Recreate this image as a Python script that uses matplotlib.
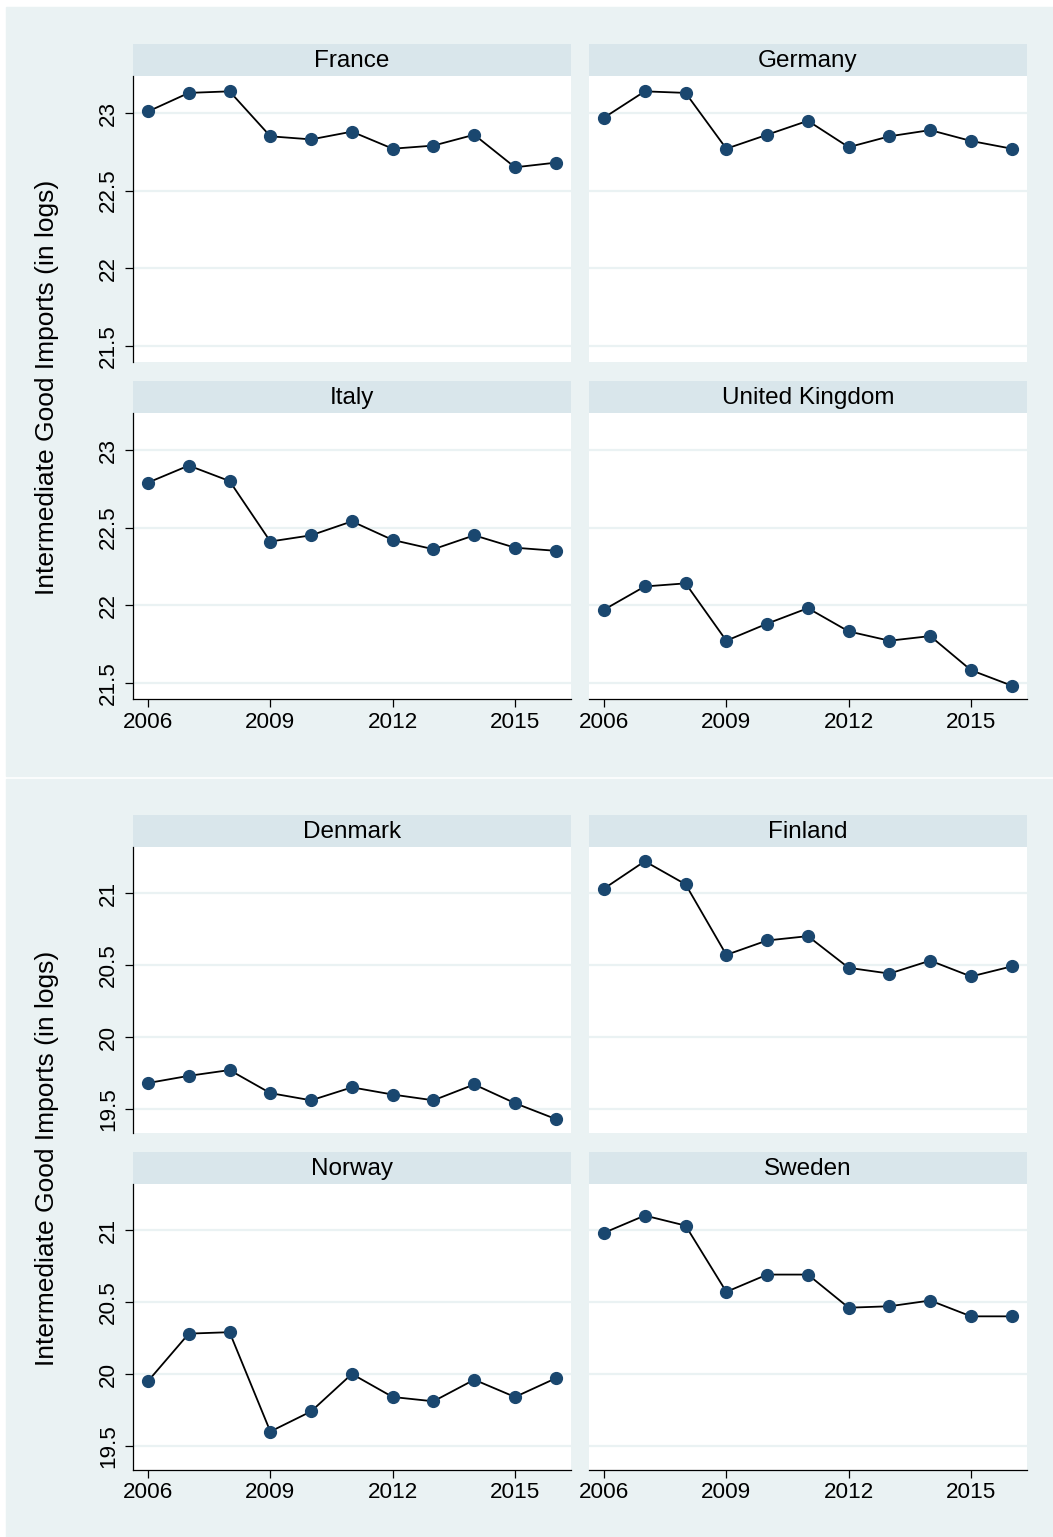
import matplotlib
matplotlib.use("Agg")
import matplotlib.pyplot as plt
from matplotlib.patches import Rectangle

plt.rcParams['font.family'] = ['Liberation Sans', 'DejaVu Sans']

# Intermediate good imports (in logs), 2006-2016
years = list(range(2006, 2017))
france = [23.01, 23.13, 23.14, 22.85, 22.83, 22.88, 22.77, 22.79, 22.86, 22.65, 22.68]
germany = [22.97, 23.14, 23.13, 22.77, 22.86, 22.95, 22.78, 22.85, 22.89, 22.82, 22.77]
italy = [22.79, 22.90, 22.80, 22.41, 22.45, 22.54, 22.42, 22.36, 22.45, 22.37, 22.35]
uk = [21.97, 22.12, 22.14, 21.77, 21.88, 21.98, 21.83, 21.77, 21.80, 21.58, 21.48]
denmark = [19.68, 19.73, 19.77, 19.61, 19.56, 19.65, 19.60, 19.56, 19.67, 19.54, 19.43]
finland = [21.03, 21.22, 21.06, 20.57, 20.67, 20.70, 20.48, 20.44, 20.53, 20.42, 20.49]
norway = [19.95, 20.28, 20.29, 19.60, 19.74, 20.00, 19.84, 19.81, 19.96, 19.84, 19.97]
sweden = [20.98, 21.10, 21.03, 20.57, 20.69, 20.69, 20.46, 20.47, 20.51, 20.40, 20.40]

big_names = ['France', 'Germany', 'Italy', 'United Kingdom']
big_series = [france, germany, italy, uk]
nordic_names = ['Denmark', 'Finland', 'Norway', 'Sweden']
nordic_series = [denmark, finland, norway, sweden]

big_ticks = [21.5, 22, 22.5, 23]
nordic_ticks = [19.5, 20, 20.5, 21]
xticks = [2006, 2009, 2012, 2015]

bg = '#eaf2f3'
strip = '#d9e6eb'
navy = '#1a476f'

W, H = 1053, 1537
fig = plt.figure(figsize=(W / 100, H / 100), dpi=100, facecolor='white')


def box(x0, y0, x1, y1):
    return [x0 / W, 1 - y1 / H, (x1 - x0) / W, (y1 - y0) / H]


# graph regions
for y0, y1 in [(7, 776), (779, 1537)]:
    fig.add_artist(Rectangle((6 / W, 1 - y1 / H), (W - 6) / W, (y1 - y0) / H,
                             transform=fig.transFigure, color=bg, zorder=0))

cols = [(133, 571), (589, 1027)]
graphs = [
    (big_names, big_series, big_ticks, (21.394, 23.239),
     [(44, 76, 362), (381, 413, 699)]),
    (nordic_names, nordic_series, nordic_ticks, (19.333, 21.319),
     [(815, 847, 1133), (1152, 1184, 1470)]),
]

for names, series, ticks, ylim, rows in graphs:
    for k, (name, vals) in enumerate(zip(names, series)):
        r, c = divmod(k, 2)
        x0, x1 = cols[c]
        htop, ptop, pbot = rows[r]

        hax = fig.add_axes(box(x0, htop, x1, ptop))
        hax.set_facecolor(strip)
        hax.set_xticks([])
        hax.set_yticks([])
        for s in hax.spines.values():
            s.set_visible(False)
        hax.text(0.5, 0.47, name, ha='center', va='center', fontsize=17.5,
                 transform=hax.transAxes)

        ax = fig.add_axes(box(x0, ptop, x1, pbot))
        ax.set_facecolor('white')
        ax.plot(years, vals, color='black', lw=1.3, marker='o', ms=8.5,
                mfc=navy, mec=navy, zorder=3)
        ax.set_xlim(2005.632, 2016.373)
        ax.set_ylim(*ylim)
        ax.set_yticks(ticks)
        ax.set_yticklabels([f'{t:g}' for t in ticks], rotation=90, va='center')
        ax.set_xticks(xticks)
        ax.set_xticklabels([str(t) for t in xticks])
        ax.yaxis.grid(True, color=bg, lw=1.6)
        ax.set_axisbelow(True)
        for s in ax.spines.values():
            s.set_visible(False)
            s.set_linewidth(0.9)
        ax.tick_params(axis='both', labelsize=16.2, width=0.9, length=6,
                       color='black')
        ax.tick_params(axis='y', pad=4)
        ax.tick_params(axis='x', pad=3)
        if c == 0:
            ax.spines['left'].set_visible(True)
        else:
            ax.tick_params(axis='y', left=False, labelleft=False)
        if r == 1:
            ax.spines['bottom'].set_visible(True)
        else:
            ax.tick_params(axis='x', bottom=False, labelbottom=False)

    yc = 1 - (rows[0][1] + rows[1][2]) / 2 / H
    fig.text(47 / W, yc, 'Intermediate Good Imports (in logs)', rotation=90,
             ha='center', va='center', fontsize=19)

fig.savefig('out.png', dpi=100)
